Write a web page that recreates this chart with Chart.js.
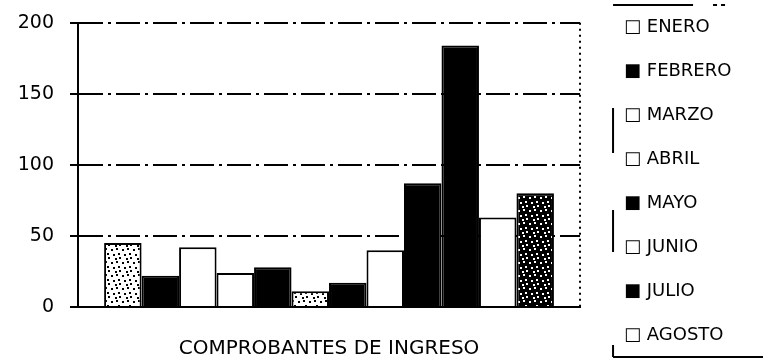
<!DOCTYPE html>
<html>
<head>
<meta charset="utf-8">
<script src="https://cdn.jsdelivr.net/npm/chart.js@4.4.1/dist/chart.umd.min.js"></script>
<style>
  html, body { margin: 0; padding: 0; background: #fff; }
</style>
</head>
<body>
<canvas id="chart" width="763" height="362"></canvas>
<script>
// chart data
const categories = ['COMPROBANTES DE INGRESO'];
const months = ['ENERO', 'FEBRERO', 'MARZO', 'ABRIL', 'MAYO', 'JUNIO', 'JULIO', 'AGOSTO',
                'SEPTIEMBRE', 'OCTUBRE', 'NOVIEMBRE', 'DICIEMBRE'];
const values = [45, 22, 42, 24, 28, 11, 17, 40, 87, 184, 63, 80];
const yTicks = [0, 50, 100, 150, 200];
const legendCount = 8; // only ENERO..AGOSTO show in the legend

const canvas = document.getElementById('chart');
const ctx = canvas.getContext('2d');

// speckled fills, like the scanned original
function speckle(bg, dot) {
    const c = document.createElement('canvas');
    c.width = 11; c.height = 13;
    const g = c.getContext('2d');
    g.fillStyle = bg;
    g.fillRect(0, 0, 11, 13);
    g.fillStyle = dot;
    [[1, 2], [6, 1], [3, 7], [8, 6], [5, 11], [9, 10]].forEach(p => g.fillRect(p[0], p[1], 2, 2));
    return ctx.createPattern(c, 'repeat');
}
const whiteSpeck = speckle('#fff', '#000');
const blackSpeck = speckle('#000', '#fff');

const fills = [whiteSpeck, '#000', '#fff', '#fff', '#000', whiteSpeck, '#000', '#fff',
               '#000', '#000', '#fff', blackSpeck];
const solid = [false, true, false, false, true, false, true, false, true, true, false, true];

const font = 'DejaVu Sans';

// dashed frame round the legend
const legendFrame = {
    id: 'legendFrame',
    afterDraw(chart) {
        const lg = chart.legend;
        const c = chart.ctx;
        const x = lg.left + 33, top = lg.top + 5, bottom = lg.bottom - 5;
        c.save();
        c.strokeStyle = '#000';
        c.lineWidth = 2;
        c.setLineDash([80, 20, 4, 4, 4, 400]);
        c.beginPath(); c.moveTo(x, top); c.lineTo(lg.right, top); c.stroke();
        c.setLineDash([0, 103, 45, 57, 42, 93, 12]);
        c.beginPath(); c.moveTo(x, top); c.lineTo(x, bottom); c.stroke();
        c.setLineDash([]);
        c.beginPath(); c.moveTo(x, bottom); c.lineTo(lg.right, bottom); c.stroke();
        c.restore();
    }
};

const chart = new Chart(ctx, {
    type: 'bar',
    data: {
        labels: categories,
        datasets: months.map((m, i) => ({
            label: m,
            data: [values[i]],
            backgroundColor: fills[i],
            borderColor: '#000',
            borderWidth: 2,
            barPercentage: 1,
            categoryPercentage: 0.896
        }))
    },
    options: {
        responsive: false,
        animation: false,
        layout: { padding: 0 },
        plugins: {
            tooltip: { enabled: false },
            legend: {
                position: 'right',
                labels: {
                    color: '#000',
                    font: { family: font, size: 18 },
                    boxWidth: 25,
                    boxHeight: 34,
                    padding: 10,
                    filter: item => item.datasetIndex < legendCount,
                    generateLabels: ch => ch.data.datasets.map((ds, i) => ({
                        text: (solid[i] ? '\u25A0 ' : '\u25A1 ') + ds.label + '\u2002\u2002\u2009',
                        fillStyle: 'rgba(0,0,0,0)',
                        strokeStyle: 'rgba(0,0,0,0)',
                        lineWidth: 0,
                        fontColor: '#000',
                        hidden: false,
                        datasetIndex: i
                    }))
                }
            }
        },
        scales: {
            x: {
                grid: { color: '#000', lineWidth: 2, drawTicks: false },
                border: { display: true, color: '#000', width: 2, dash: [2, 4] },
                ticks: { color: '#000', font: { family: font, size: 20 }, padding: 30, maxRotation: 0 },
                afterFit: s => { s.height = 55; }
            },
            y: {
                min: 0,
                max: 200,
                afterBuildTicks: s => { s.ticks = yTicks.map(v => ({ value: v })); },
                grid: { color: '#000', lineWidth: 2, tickLength: 8 },
                border: { display: true, color: '#000', width: 2, dash: [24, 5, 3, 5] },
                // small lineHeight keeps the top label's padding close to the plot top
                ticks: { color: '#000', font: { family: font, size: 19, lineHeight: 0.7 }, padding: 16 },
                afterFit: s => { s.width = 78; }
            }
        }
    },
    plugins: [legendFrame]
});
</script>
</body>
</html>
